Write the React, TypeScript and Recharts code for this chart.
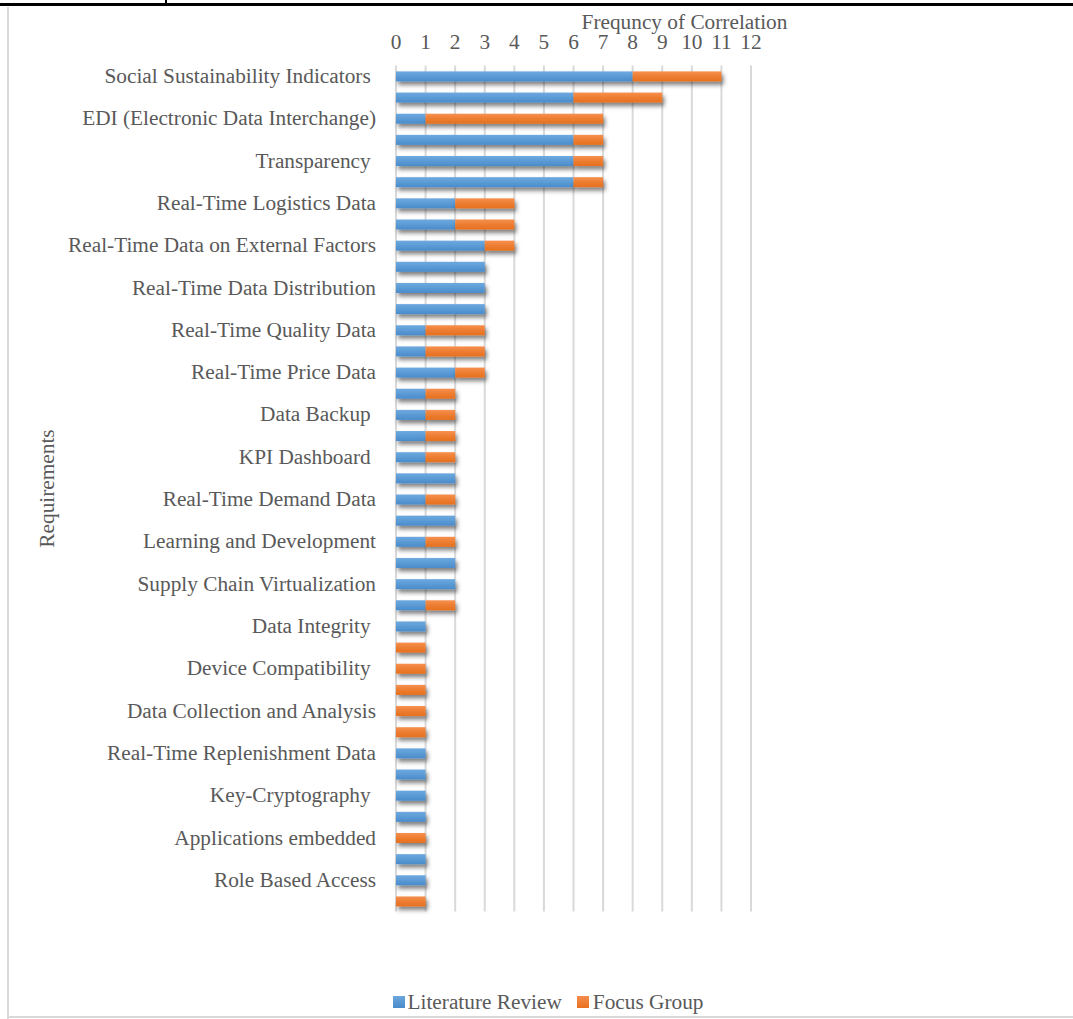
import React from 'react';
import { BarChart, Bar, XAxis, YAxis, CartesianGrid, Legend } from 'recharts';

const categories: string[] = [
  'Social Sustainability Indicators ',
  '',
  'EDI (Electronic Data Interchange)',
  '',
  'Transparency ',
  '',
  'Real-Time Logistics Data',
  '',
  'Real-Time Data on External Factors',
  '',
  'Real-Time Data Distribution',
  '',
  'Real-Time Quality Data',
  '',
  'Real-Time Price Data',
  '',
  'Data Backup ',
  '',
  'KPI Dashboard ',
  '',
  'Real-Time Demand Data',
  '',
  'Learning and Development',
  '',
  'Supply Chain Virtualization',
  '',
  'Data Integrity ',
  '',
  'Device Compatibility ',
  '',
  'Data Collection and Analysis',
  '',
  'Real-Time Replenishment Data',
  '',
  'Key-Cryptography ',
  '',
  'Applications embedded',
  '',
  'Role Based Access',
  '',
];

const literatureReview: number[] = [
  8, 6, 1, 6, 6, 6, 2, 2, 3, 3, 3, 3, 1, 1, 2, 1, 1, 1, 1, 2,
  1, 2, 1, 2, 2, 1, 1, 0, 0, 0, 0, 0, 1, 1, 1, 1, 0, 1, 1, 0,
];

const focusGroup: number[] = [
  3, 3, 6, 1, 1, 1, 2, 2, 1, 0, 0, 0, 2, 2, 1, 1, 1, 1, 1, 0,
  1, 0, 1, 0, 0, 1, 0, 1, 1, 1, 1, 1, 0, 0, 0, 0, 1, 0, 0, 1,
];

const xTicks: number[] = [0, 1, 2, 3, 4, 5, 6, 7, 8, 9, 10, 11, 12];

const seriesNames = { lr: 'Literature Review', fg: 'Focus Group' };
const xAxisTitle = 'Frequncy of Correlation';
const yAxisTitle = 'Requirements';

const data = categories.map((label, i) => ({
  key: `row-${i + 1}`,
  label,
  lr: literatureReview[i],
  fg: focusGroup[i],
}));
const labelByKey: Record<string, string> = Object.fromEntries(data.map((d) => [d.key, d.label]));

const FONT = '"Liberation Serif", "Times New Roman", Times, serif';
const TEXT = '#595959';
const FS = 21.3;

const ShadowBar = (props: any) => {
  const { x, y, width, height, fill } = props;
  if (!width || width <= 0 || !height) return <g />;
  return <rect x={x} y={y} width={width} height={height} fill={fill} filter="url(#barShadow)" />;
};

const NumTick = (props: any) => {
  const { x, y, payload } = props;
  return (
    <text x={x} y={y} textAnchor="middle" fill={TEXT} fontSize={FS} fontFamily={FONT}>
      {payload.value}
    </text>
  );
};

const CatTick = (props: any) => {
  const { x, y, payload } = props;
  const txt = labelByKey[payload.value] ?? '';
  return (
    <text
      x={x}
      y={y}
      dy={7}
      textAnchor="end"
      fill={TEXT}
      fontSize={FS}
      fontFamily={FONT}
      style={{ whiteSpace: 'pre' }}
    >
      {txt}
    </text>
  );
};

const XTitle = (props: any) => {
  const vb = props.viewBox || { x: 396, y: 35.4, width: 355, height: 30 };
  return (
    <text
      x={vb.x + vb.width / 2 + 111}
      y={vb.y - 6.5}
      textAnchor="middle"
      fill={TEXT}
      fontSize={FS}
      fontFamily={FONT}
    >
      {xAxisTitle}
    </text>
  );
};

const YTitle = (props: any) => {
  const vb = props.viewBox || { x: 30, y: 65.4, width: 366, height: 846 };
  const cx = vb.x + 17;
  const cy = vb.y + vb.height / 2;
  return (
    <text
      x={cx}
      y={cy}
      transform={`rotate(-90 ${cx} ${cy})`}
      textAnchor="middle"
      dominantBaseline="central"
      fill={TEXT}
      fontSize={FS}
      fontFamily={FONT}
    >
      {yAxisTitle}
    </text>
  );
};

const LegendContent = () => (
  <div
    style={{
      height: 24,
      display: 'flex',
      justifyContent: 'center',
      alignItems: 'center',
      paddingLeft: 23,
      fontFamily: FONT,
      fontSize: FS,
      color: TEXT,
      lineHeight: '24px',
    }}
  >
    <span
      style={{
        display: 'inline-block',
        width: 12,
        height: 12,
        marginRight: 3,
        background: 'linear-gradient(#6BA6DD, #4A8BCB)',
      }}
    />
    <span style={{ marginRight: 15 }}>{seriesNames.lr}</span>
    <span
      style={{
        display: 'inline-block',
        width: 12,
        height: 12,
        marginRight: 4,
        background: 'linear-gradient(#F58D4F, #E8701E)',
      }}
    />
    <span>{seriesNames.fg}</span>
  </div>
);

export default function App() {
  return (
    <div style={{ position: 'absolute', top: 0, left: 0, width: 1073, height: 1019, background: '#fff', overflow: 'hidden' }}>
      <svg width={0} height={0} style={{ position: 'absolute' }}>
        <defs>
          <linearGradient id="gradBlue" x1="0" y1="0" x2="0" y2="1">
            <stop offset="0%" stopColor="#6EA9E0" />
            <stop offset="50%" stopColor="#5B9BD5" />
            <stop offset="100%" stopColor="#4A8BCB" />
          </linearGradient>
          <linearGradient id="gradOrange" x1="0" y1="0" x2="0" y2="1">
            <stop offset="0%" stopColor="#F6904F" />
            <stop offset="50%" stopColor="#ED7D31" />
            <stop offset="100%" stopColor="#E6701F" />
          </linearGradient>
          <filter id="barShadow" x="-20%" y="-60%" width="140%" height="260%">
            <feDropShadow dx="2" dy="3.5" stdDeviation="2.2" floodColor="#000" floodOpacity="0.5" />
          </filter>
        </defs>
      </svg>

      {/* document frame lines */}
      <div style={{ position: 'absolute', top: 3, left: 0, width: 1073, height: 3, background: '#000' }} />
      <div style={{ position: 'absolute', top: 0, left: 165, width: 2, height: 4, background: '#000' }} />
      <div style={{ position: 'absolute', top: 7, left: 7, width: 2, height: 1012, background: '#d9d9d9' }} />
      <div style={{ position: 'absolute', top: 1016, left: 7, width: 1066, height: 2, background: '#d9d9d9' }} />

      <div style={{ position: 'absolute', top: 0, left: 0 }}>
        <BarChart
          width={1073}
          height={1019}
          data={data}
          layout="vertical"
          margin={{ top: 35.4, right: 322, left: 30, bottom: 83.4 }}
          barSize={10}
        >
          <CartesianGrid horizontal={false} vertical stroke="#d9d9d9" strokeWidth={2} />
          <XAxis
            type="number"
            orientation="top"
            domain={[0, 12]}
            ticks={xTicks}
            interval={0}
            height={30}
            axisLine={false}
            tickLine={false}
            tickSize={0}
            tickMargin={16}
            tick={(p: any) => <NumTick {...p} />}
            label={{ content: (p: any) => <XTitle {...p} /> }}
          />
          <YAxis
            type="category"
            dataKey="key"
            width={366}
            interval={0}
            axisLine={false}
            tickLine={false}
            tickSize={0}
            tickMargin={20}
            tick={(p: any) => <CatTick {...p} />}
            label={{ content: (p: any) => <YTitle {...p} /> }}
          />
          <Legend
            verticalAlign="bottom"
            wrapperStyle={{ left: 0, width: 1073, bottom: 5 }}
            content={() => <LegendContent />}
          />
          <Bar
            dataKey="lr"
            name={seriesNames.lr}
            stackId="s"
            fill="url(#gradBlue)"
            isAnimationActive={false}
            shape={(p: any) => <ShadowBar {...p} />}
          />
          <Bar
            dataKey="fg"
            name={seriesNames.fg}
            stackId="s"
            fill="url(#gradOrange)"
            isAnimationActive={false}
            shape={(p: any) => <ShadowBar {...p} />}
          />
        </BarChart>
      </div>
    </div>
  );
}
